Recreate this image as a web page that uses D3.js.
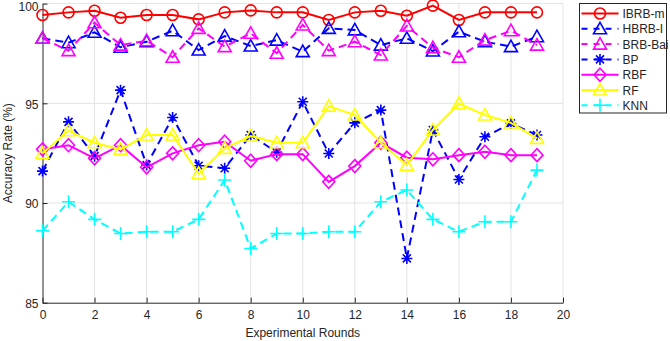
<!DOCTYPE html>
<html>
<head>
<meta charset="utf-8">
<script src="https://cdn.jsdelivr.net/npm/d3@7"></script>
<style>
  body { margin: 0; background: #fff; }
  svg { font-family: "Liberation Sans", Arial, sans-serif; }
</style>
</head>
<body>
<div id="chart"></div>
<script>
// experimental rounds 0..19
const rounds = d3.range(0, 20);

const ibrbM  = [99.43, 99.56, 99.64, 99.29, 99.43, 99.43, 99.21, 99.56, 99.66, 99.56,
                99.56, 99.18, 99.56, 99.64, 99.39, 99.90, 99.18, 99.56, 99.56, 99.56];
const hbrbI  = [98.26, 98.04, 98.56, 97.81, 98.09, 98.64, 97.67, 98.37, 97.87, 98.17,
                97.59, 98.76, 98.68, 97.92, 98.26, 97.62, 98.59, 98.09, 97.84, 98.34];
const brbBai = [98.26, 97.64, 99.04, 97.92, 98.14, 97.31, 98.76, 97.84, 98.51, 97.51,
                98.93, 97.64, 98.09, 97.42, 98.88, 97.79, 97.31, 98.17, 98.64, 97.92];
const bp     = [91.60, 94.07, 92.35, 95.66, 91.90, 94.29, 91.87, 91.74, 93.41, 92.54,
                95.08, 92.48, 94.02, 94.66, 87.22, 93.66, 91.18, 93.32, 93.99, 93.41];
const rbf    = [92.69, 92.90, 92.24, 92.90, 91.79, 92.49, 92.90, 93.07, 92.12, 92.45,
                92.45, 91.06, 91.85, 93.02, 92.27, 92.19, 92.40, 92.57, 92.40, 92.40];
const rf     = [92.49, 93.62, 93.02, 92.69, 93.41, 93.41, 91.48, 92.74, 93.36, 93.02,
                93.02, 94.86, 94.41, 93.02, 91.90, 93.66, 94.99, 94.41, 94.02, 93.24];
const knn    = [88.61, 90.06, 89.18, 88.47, 88.56, 88.56, 89.18, 91.15, 87.72, 88.47,
                88.47, 88.56, 88.56, 90.06, 90.65, 89.18, 88.56, 89.06, 89.06, 91.65];

const xTicks = [0, 2, 4, 6, 8, 10, 12, 14, 16, 18, 20];
const yTicks = [85, 90, 95, 100];

const series = [
    {name: "IBRB-m",  values: ibrbM,  color: "#ff0000", dash: null,  marker: "circle"},
    {name: "HBRB-I",  values: hbrbI,  color: "#0000ff", dash: "8,5", marker: "triangle"},
    {name: "BRB-Bai", values: brbBai, color: "#ff00ff", dash: "8,5", marker: "triangle"},
    {name: "BP",      values: bp,     color: "#0000ff", dash: "8,5", marker: "star"},
    {name: "RBF",     values: rbf,    color: "#ff00ff", dash: null,  marker: "diamond"},
    {name: "RF",      values: rf,     color: "#ffff00", dash: null,  marker: "triangle"},
    {name: "KNN",     values: knn,    color: "#00ffff", dash: "8,5", marker: "plus"}
];

const W = 670, H = 341;
const margin = {left: 42.5, right: 107, top: 3.6, bottom: 38.3};
const iw = W - margin.left - margin.right,
      ih = H - margin.top - margin.bottom;

const svg = d3.select("#chart").append("svg")
    .attr("width", W)
    .attr("height", H);

const x = d3.scaleLinear().domain([0, 20]).range([0, iw]);
const y = d3.scaleLinear().domain([85, 100]).range([ih, 0]);

const g = svg.append("g")
    .attr("transform", `translate(${margin.left},${margin.top})`);

// grid
g.append("g").selectAll("line")
    .data(xTicks.slice(1))
    .enter().append("line")
    .attr("x1", d => x(d)).attr("x2", d => x(d))
    .attr("y1", 0).attr("y2", ih)
    .attr("stroke", "#e3e3e3").attr("stroke-width", 1);
g.append("g").selectAll("line")
    .data(yTicks.slice(1))
    .enter().append("line")
    .attr("x1", 0).attr("x2", iw)
    .attr("y1", d => y(d)).attr("y2", d => y(d))
    .attr("stroke", "#e3e3e3").attr("stroke-width", 1);

// axes (ticks pointing inwards, matlab style)
const xAxis = g.append("g")
    .attr("transform", `translate(0,${ih})`)
    .call(d3.axisBottom(x).tickValues(xTicks).tickSizeInner(-5).tickSizeOuter(0).tickPadding(8));
const yAxis = g.append("g")
    .call(d3.axisLeft(y).tickValues(yTicks).tickSizeInner(-5).tickSizeOuter(0).tickPadding(6));

[xAxis, yAxis].forEach(a => {
    a.select(".domain").attr("stroke", "#262626");
    a.selectAll(".tick line").attr("stroke", "#262626");
    a.selectAll(".tick text")
        .attr("fill", "#262626")
        .style("font-size", "12px")
        .style("font-family", "Liberation Sans, Arial, sans-serif");
});
// top label sits on the window edge, push it down a little
yAxis.selectAll(".tick text").attr("x", -4)
    .attr("dy", d => d === 100 ? "0.6em" : "0.4em");

svg.append("text")
    .attr("x", margin.left + iw / 2)
    .attr("y", 337)
    .attr("text-anchor", "middle")
    .attr("fill", "#262626")
    .style("font-size", "12px")
    .text("Experimental Rounds");

svg.append("text")
    .attr("transform", `translate(12,${margin.top + ih / 2}) rotate(-90)`)
    .attr("text-anchor", "middle")
    .attr("fill", "#262626")
    .style("font-size", "12px")
    .text("Accuracy Rate (%)");

// markers
function drawMarker(sel, type, color) {
    if (type === "circle") {
        sel.append("circle").attr("r", 5.5)
            .attr("fill", "none").attr("stroke", color).attr("stroke-width", 1.6);
    } else if (type === "triangle") {
        sel.append("path").attr("d", "M0,-6.5L6.5,5L-6.5,5Z")
            .attr("fill", "none").attr("stroke", color).attr("stroke-width", 1.6);
    } else if (type === "diamond") {
        sel.append("path").attr("d", "M0,-6.5L6,0L0,6.5L-6,0Z")
            .attr("fill", "none").attr("stroke", color).attr("stroke-width", 1.6);
    } else if (type === "plus") {
        sel.append("path").attr("d", "M-6.5,0H6.5M0,-6.5V6.5")
            .attr("fill", "none").attr("stroke", color).attr("stroke-width", 1.6);
    } else if (type === "star") {
        sel.append("path").attr("d", "M-5.5,0H5.5M0,-5.5V5.5M-4,-4L4,4M-4,4L4,-4")
            .attr("fill", "none").attr("stroke", color).attr("stroke-width", 1.6);
    }
}

const line = d3.line()
    .x((d, i) => x(rounds[i]))
    .y(d => y(d));

series.forEach(s => {
    const sg = g.append("g");
    sg.append("path")
        .datum(s.values)
        .attr("d", line)
        .attr("fill", "none")
        .attr("stroke", s.color)
        .attr("stroke-width", 2)
        .attr("stroke-dasharray", s.dash);
    sg.selectAll("g.mk")
        .data(s.values)
        .enter().append("g")
        .attr("class", "mk")
        .attr("transform", (d, i) => `translate(${x(rounds[i])},${y(d)})`)
        .each(function () { drawMarker(d3.select(this), s.marker, s.color); });
});

// legend
const lg = svg.append("g").attr("transform", "translate(579.5,3.5)");
lg.append("rect")
    .attr("width", 87).attr("height", 109.5)
    .attr("fill", "#fff").attr("stroke", "#262626").attr("stroke-width", 1);

const item = lg.selectAll("g.item")
    .data(series)
    .enter().append("g")
    .attr("class", "item")
    .attr("transform", (d, i) => `translate(0,${10 + i * 15.3})`);
item.append("line")
    .attr("x1", 2).attr("x2", 39)
    .attr("stroke", d => d.color)
    .attr("stroke-width", 2)
    .attr("stroke-dasharray", d => d.dash ? "6,6" : null);
item.append("g")
    .attr("transform", "translate(20.5,0)")
    .each(function (d) { drawMarker(d3.select(this), d.marker, d.color); });
item.append("text")
    .attr("x", 43).attr("y", 4.5)
    .attr("fill", "#262626")
    .style("font-size", "12px")
    .text(d => d.name);
</script>
</body>
</html>
